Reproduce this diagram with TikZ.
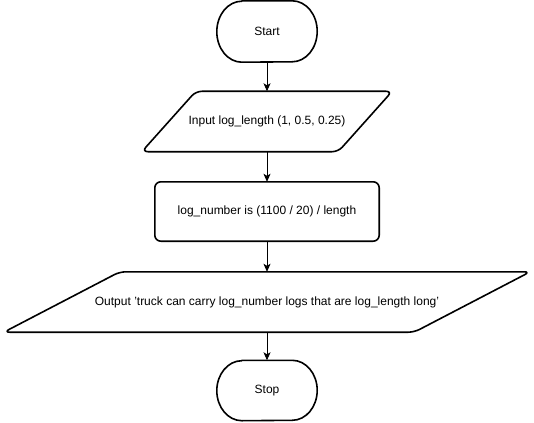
\documentclass[tikz,border=0pt]{standalone}
\usepackage{fontspec}
\setmainfont{Liberation Sans}
\usetikzlibrary{arrows.meta,calc}
\tikzset{
  txt/.style={draw=none, inner sep=0pt, font=\fontsize{12}{14}\selectfont, text=black},
  outline/.style={draw=black, line width=1.6pt, line join=round},
  conn/.style={draw=black, line width=0.9pt, -{Stealth[length=8pt,width=7pt,inset=2pt]}}
}
\begin{document}
\begin{tikzpicture}[x=1pt,y=-1pt]
\useasboundingbox[fill=white] (0,0) rectangle (534,422);
% nodes (text holders with shape extents)
\node[txt, minimum width=100pt, minimum height=61pt] (start) at (267,31.5) {Start};
\node[txt, minimum width=250pt, minimum height=60pt] (input) at (267,121.5) {Input log\_length (1, 0.5, 0.25)};
\node[txt, minimum width=224pt, minimum height=59pt] (proc) at (267,211.5) {log\_number is (1100 / 20) / length};
\node[txt, minimum width=526pt, minimum height=60pt] (out) at (267,302) {Output 'truck can carry log\_number logs that are log\_length long'};
\node[txt, minimum width=100pt, minimum height=60pt] (stop) at (267,390.5) {Stop};
% outlines
\draw[outline] ($(start.north west)+(25,0)$) -- ($(start.north east)+(-25,0)$)
  arc[start angle=90, end angle=-90, x radius=25pt, y radius=30.5pt]
  -- ($(start.south west)+(25,0)$)
  arc[start angle=-90, end angle=-270, x radius=25pt, y radius=30.5pt] -- cycle;
\draw[outline] ($(stop.north west)+(25,0)$) -- ($(stop.north east)+(-25,0)$)
  arc[start angle=90, end angle=-90, x radius=25pt, y radius=30pt]
  -- ($(stop.south west)+(25,0)$)
  arc[start angle=-90, end angle=-270, x radius=25pt, y radius=30pt] -- cycle;
\draw[outline, rounded corners=6pt] ($(input.north west)+(54,0)$) -- (input.north east)
  -- ($(input.south east)+(-54,0)$) -- (input.south west) -- cycle;
\draw[outline, rounded corners=6pt] (proc.north west) rectangle (proc.south east);
\draw[outline, rounded corners=6pt] ($(out.north west)+(116,0)$) -- (out.north east)
  -- ($(out.south east)+(-116,0)$) -- (out.south west) -- cycle;
% connectors
\draw[conn] (start) -- (input);
\draw[conn] (input) -- (proc);
\draw[conn] (proc) -- (out);
\draw[conn] (out) -- (stop);
\end{tikzpicture}
\end{document}
